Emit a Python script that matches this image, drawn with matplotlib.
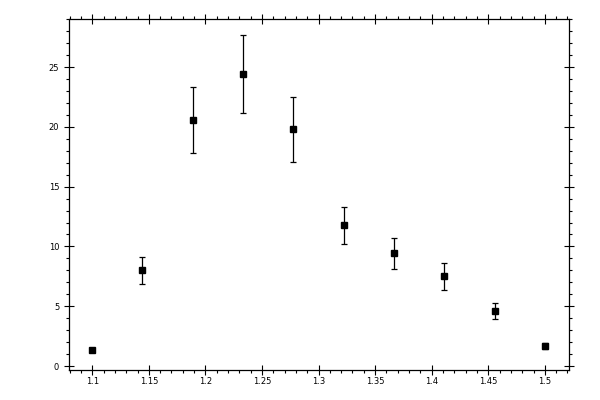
import matplotlib
matplotlib.use("Agg")
import matplotlib.pyplot as plt
from matplotlib.ticker import MultipleLocator, FixedFormatter, FixedLocator

x_values = [1.1, 1.1444, 1.1889, 1.2333, 1.2778, 1.3222, 1.3667, 1.4111, 1.4556, 1.5]
y_values = [1.31, 8.0, 20.54, 24.39, 19.79, 11.76, 9.42, 7.5, 4.57, 1.7]
y_errors = [0.15, 1.13, 2.76, 3.26, 2.72, 1.55, 1.3, 1.1, 0.67, 0.25]
x_tick_values = [1.1, 1.15, 1.2, 1.25, 1.3, 1.35, 1.4, 1.45, 1.5]
x_tick_labels = ["1.1", "1.15", "1.2", "1.25", "1.3", "1.35", "1.4", "1.45", "1.5"]
y_tick_values = [0, 5, 10, 15, 20, 25]
y_tick_labels = ["0", "5", "10", "15", "20", "25"]

fig = plt.figure(figsize=(6, 4), dpi=100)
ax = fig.add_axes([0.1155, 0.075, 0.8325, 0.877])

ax.errorbar(x_values, y_values, yerr=y_errors, fmt='s', color='black',
            markersize=5, elinewidth=0.9, capsize=2.2, capthick=0.9, ecolor='black')

ax.set_xlim(1.0797, 1.5212)
ax.set_ylim(-0.33, 29.0)

ax.xaxis.set_major_locator(FixedLocator(x_tick_values))
ax.xaxis.set_major_formatter(FixedFormatter(x_tick_labels))
ax.yaxis.set_major_locator(FixedLocator(y_tick_values))
ax.yaxis.set_major_formatter(FixedFormatter(y_tick_labels))
ax.xaxis.set_minor_locator(MultipleLocator(0.01))
ax.yaxis.set_minor_locator(MultipleLocator(1))

for s in ax.spines.values():
    s.set_linewidth(0.9)

ax.tick_params(which='major', direction='inout', length=6.5, width=0.8,
               top=True, right=True, labelsize=6)
ax.tick_params(which='minor', direction='out', length=2.3, width=0.8,
               top=True, right=True)
ax.tick_params(axis='x', which='major', pad=2)
ax.tick_params(axis='y', which='major', pad=4)

fig.savefig("out.png", dpi=100)
